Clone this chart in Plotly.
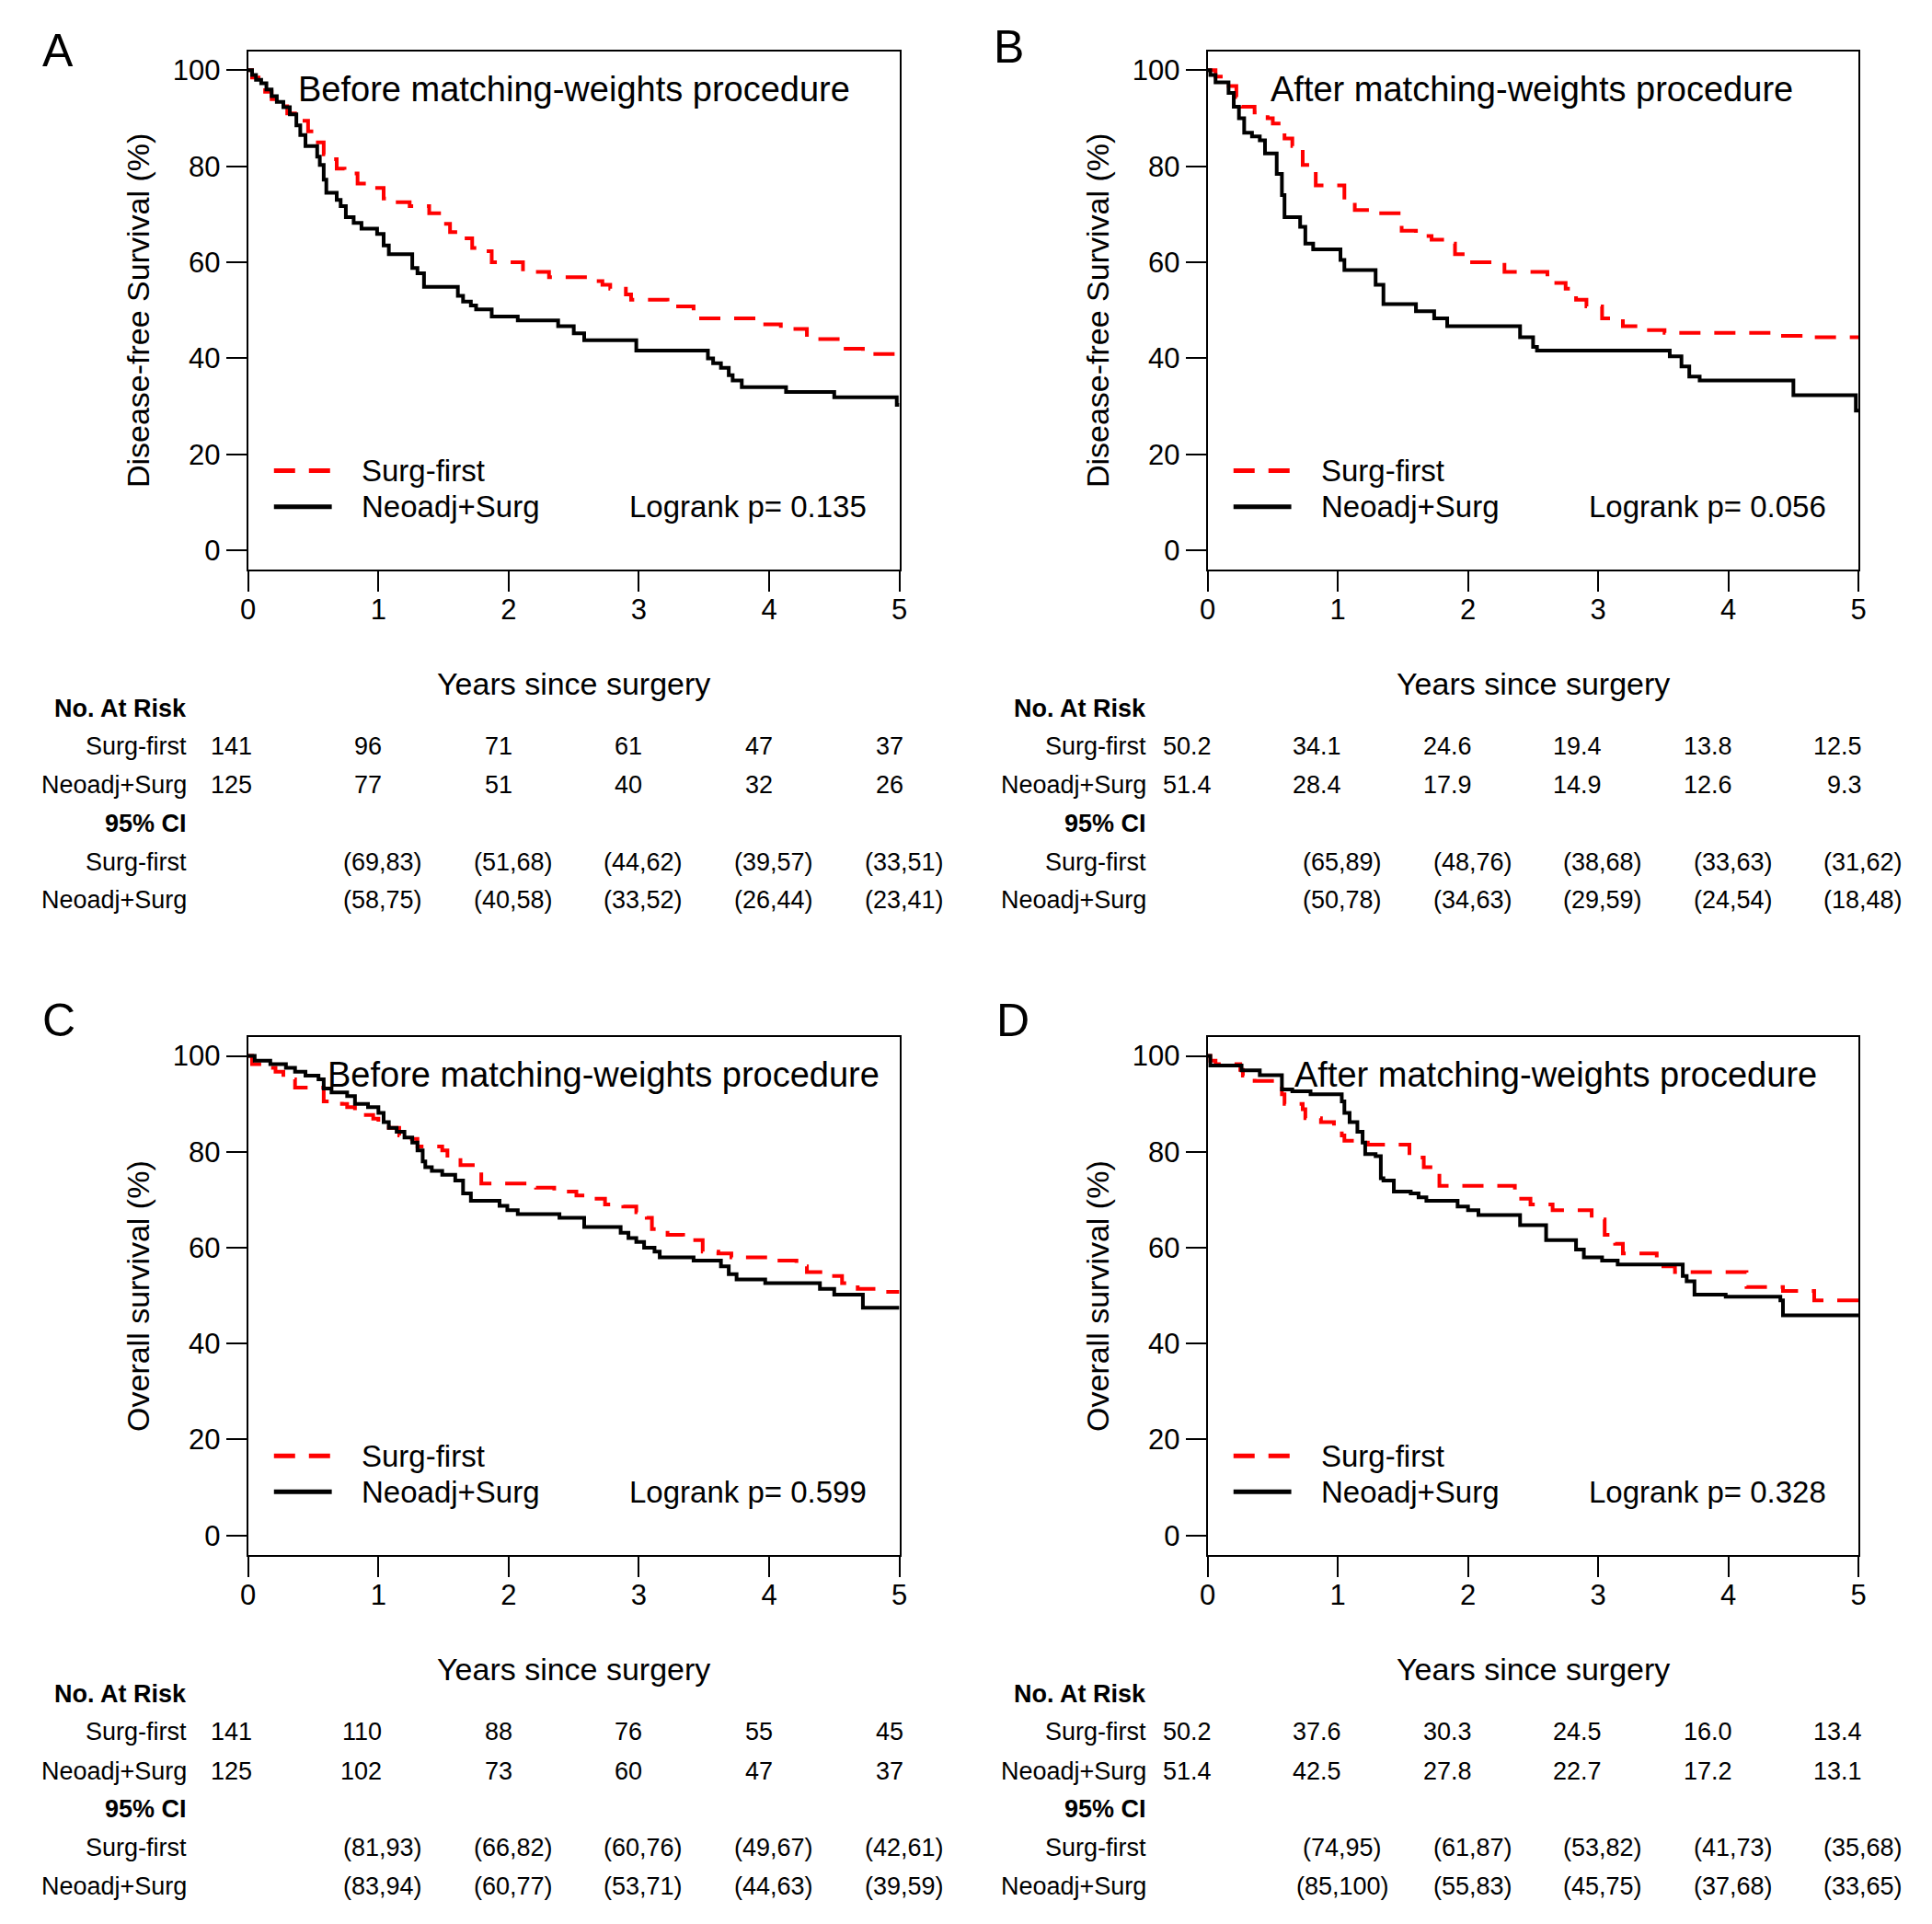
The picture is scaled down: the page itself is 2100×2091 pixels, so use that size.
import plotly.graph_objects as go

FONT = "Arial, 'Liberation Sans', Arimo, sans-serif"
W, H = 2100, 2091
# measured page mapping: the paper's horizontal extent lands in [8, 2092] of the photograph
OX, SX = 8.0, 2084.0

# ---------------- data ----------------
A_sf_t = [0, 0.03, 0.08, 0.13, 0.18, 0.24, 0.30, 0.36, 0.40, 0.46, 0.52, 0.58, 0.62, 0.68, 0.74, 0.84, 0.92, 1.04, 1.10, 1.24, 1.39, 1.50, 1.55, 1.62, 1.72, 1.76, 1.87, 2.11, 2.31, 2.62, 2.72, 2.78, 2.90, 2.94, 3.22, 3.42, 3.93, 4.09, 4.29, 4.56, 4.72, 5.0]
A_sf_s = [100, 98.5, 97, 95.5, 94, 92.5, 91, 90.2, 89.5, 87.3, 85, 82.5, 81.5, 79.5, 78.5, 76.4, 75.5, 73.3, 72.5, 71.7, 70.2, 68, 66.3, 65, 63, 62.3, 60, 58, 56.9, 56.1, 55.3, 54.5, 53.3, 52.2, 50.8, 48.3, 47.1, 46.1, 44, 42, 40.9, 40.9]
A_ns_t = [0, 0.03, 0.06, 0.10, 0.14, 0.18, 0.22, 0.27, 0.32, 0.37, 0.40, 0.44, 0.53, 0.55, 0.58, 0.60, 0.68, 0.71, 0.75, 0.81, 0.87, 0.99, 1.04, 1.08, 1.26, 1.30, 1.35, 1.61, 1.65, 1.71, 1.75, 1.87, 2.07, 2.38, 2.50, 2.58, 2.98, 3.53, 3.57, 3.63, 3.69, 3.72, 3.79, 4.13, 4.50, 4.98, 5.0]
A_ns_s = [100, 99, 98, 97.3, 96, 94.6, 93.4, 92.3, 90.8, 88.5, 86.5, 84.2, 82.0, 80.3, 77.2, 74.5, 73, 71.7, 69.4, 68.2, 67.0, 65.9, 63.5, 61.7, 58.8, 57.7, 54.9, 53.0, 51.8, 51.0, 50.2, 48.7, 47.9, 46.7, 45.2, 43.75, 41.6, 40.0, 39.0, 38.0, 36.5, 35.4, 34.0, 33.0, 31.9, 30.3, 30.3]

B_sf_t = [0, 0.06, 0.14, 0.22, 0.26, 0.36, 0.46, 0.50, 0.59, 0.65, 0.73, 0.83, 1.05, 1.13, 1.27, 1.49, 1.60, 1.72, 1.82, 1.90, 1.98, 2.28, 2.61, 2.75, 2.83, 2.91, 3.03, 3.19, 3.39, 3.51, 4.42, 4.66, 5.0]
B_sf_s = [100, 98.7, 96.7, 94.4, 92.4, 91.2, 90, 88.9, 85.8, 84.2, 80.3, 76, 72.5, 70.9, 70.2, 66.6, 65.5, 64.7, 63.9, 61.7, 60, 58, 55.7, 54.5, 52.2, 50.8, 48.3, 46.7, 45.9, 45.3, 44.7, 44.4, 44.4]
B_ns_t = [0, 0.02, 0.06, 0.16, 0.20, 0.24, 0.28, 0.34, 0.40, 0.44, 0.53, 0.57, 0.59, 0.71, 0.75, 0.81, 1.02, 1.05, 1.29, 1.35, 1.60, 1.74, 1.84, 2.40, 2.50, 2.53, 3.55, 3.64, 3.70, 3.78, 4.50, 4.98, 5.0]
B_ns_s = [100, 99, 97.5, 95.3, 92.4, 90, 87, 86.2, 85.4, 82.7, 78.4, 74, 69.4, 67.4, 63.9, 62.7, 60.5, 58.4, 55.3, 51.3, 49.8, 48.3, 46.7, 44.4, 42.4, 41.6, 40.4, 38.3, 36.2, 35.4, 32.3, 29.1, 29.1]

C_sf_t = [0, 0.03, 0.13, 0.21, 0.27, 0.36, 0.58, 0.72, 0.76, 0.82, 0.96, 1.00, 1.08, 1.16, 1.22, 1.30, 1.49, 1.53, 1.63, 1.75, 1.79, 2.21, 2.35, 2.52, 2.66, 2.74, 2.88, 2.98, 3.06, 3.10, 3.22, 3.34, 3.40, 3.49, 3.61, 3.71, 3.97, 4.21, 4.29, 4.41, 4.56, 4.68, 4.84, 5.0]
C_sf_s = [100, 98.3, 97.5, 96.7, 95.1, 93.4, 90.5, 90, 89.3, 87.7, 86.9, 85.8, 85, 83.4, 82.7, 81.1, 80.3, 78.8, 77.2, 76, 73.4, 72.5, 71.7, 70.9, 70.2, 69, 68.6, 67.4, 66.25, 63.9, 62.7, 62, 61.6, 59.2, 58.8, 58, 57.3, 56.1, 54.9, 54.1, 52.6, 51.4, 50.8, 50.8]
C_ns_t = [0, 0.05, 0.17, 0.29, 0.36, 0.44, 0.54, 0.58, 0.64, 0.76, 0.82, 0.92, 1.00, 1.04, 1.08, 1.14, 1.20, 1.26, 1.30, 1.34, 1.36, 1.41, 1.49, 1.59, 1.65, 1.71, 1.93, 1.99, 2.07, 2.39, 2.58, 2.86, 2.92, 2.98, 3.04, 3.12, 3.16, 3.42, 3.63, 3.69, 3.75, 3.97, 4.39, 4.50, 4.72, 5.0]
C_ns_s = [100, 99, 98.3, 97.5, 96.7, 95.9, 95.1, 93.2, 92.4, 91.6, 90, 89.3, 88.1, 86.2, 85, 84.2, 83, 81.9, 80.3, 78, 76.8, 76, 75.2, 74, 71.3, 69.8, 68.75, 67.8, 67, 66.25, 64.3, 63.1, 62, 61.2, 60, 59.2, 58, 57.3, 56.1, 54.5, 53.4, 52.6, 51.4, 50.2, 47.5, 47.5]

D_sf_t = [0, 0.02, 0.06, 0.25, 0.27, 0.36, 0.57, 0.59, 0.73, 0.75, 0.87, 0.97, 1.03, 1.05, 1.17, 1.23, 1.55, 1.66, 1.76, 1.78, 2.36, 2.48, 2.65, 2.95, 3.05, 3.13, 3.19, 3.45, 3.59, 4.14, 4.42, 4.66, 5.0]
D_sf_s = [100, 99, 98.3, 97.1, 95.9, 94.8, 92, 90, 88.9, 87, 86.2, 85.4, 83.4, 82.3, 81.9, 81.5, 78.8, 76.8, 76, 72.9, 70.2, 69, 67.8, 65.9, 62.7, 60.8, 58.8, 56.1, 54.9, 51.8, 51, 49, 49]
D_ns_t = [0, 0.02, 0.26, 0.40, 0.57, 0.65, 0.79, 1.03, 1.05, 1.09, 1.15, 1.19, 1.21, 1.29, 1.33, 1.35, 1.43, 1.56, 1.62, 1.68, 1.92, 2.00, 2.08, 2.40, 2.60, 2.83, 2.89, 3.03, 3.15, 3.65, 3.68, 3.74, 3.98, 4.40, 4.42, 5.0]
D_ns_s = [100, 98, 97, 96, 93, 92.6, 92, 90.5, 88.1, 86.2, 84.2, 81.9, 79.5, 79.1, 74.5, 74, 71.7, 71.3, 70.5, 69.8, 68.6, 67.8, 66.8, 64.7, 61.6, 59.6, 58, 57.3, 56.5, 54.1, 53, 50.2, 49.8, 49, 45.9, 45.9]

years = [0, 1, 2, 3, 4, 5]
A_risk_sf = ["141", "96", "71", "61", "47", "37"]
A_risk_ns = ["125", "77", "51", "40", "32", "26"]
A_ci_sf = ["(69,83)", "(51,68)", "(44,62)", "(39,57)", "(33,51)"]
A_ci_ns = ["(58,75)", "(40,58)", "(33,52)", "(26,44)", "(23,41)"]
B_risk_sf = ["50.2", "34.1", "24.6", "19.4", "13.8", "12.5"]
B_risk_ns = ["51.4", "28.4", "17.9", "14.9", "12.6", "9.3"]
B_ci_sf = ["(65,89)", "(48,76)", "(38,68)", "(33,63)", "(31,62)"]
B_ci_ns = ["(50,78)", "(34,63)", "(29,59)", "(24,54)", "(18,48)"]
C_risk_sf = ["141", "110", "88", "76", "55", "45"]
C_risk_ns = ["125", "102", "73", "60", "47", "37"]
C_ci_sf = ["(81,93)", "(66,82)", "(60,76)", "(49,67)", "(42,61)"]
C_ci_ns = ["(83,94)", "(60,77)", "(53,71)", "(44,63)", "(39,59)"]
D_risk_sf = ["50.2", "37.6", "30.3", "24.5", "16.0", "13.4"]
D_risk_ns = ["51.4", "42.5", "27.8", "22.7", "17.2", "13.1"]
D_ci_sf = ["(74,95)", "(61,87)", "(53,82)", "(41,73)", "(35,68)"]
D_ci_ns = ["(85,100)", "(55,83)", "(45,75)", "(37,68)", "(33,65)"]

group_names = ["Surg-first", "Neoadj+Surg"]
y_ticks = [0, 20, 40, 60, 80, 100]

panels = [
    dict(letter="A", letter_px=(62.5, 55), left=269, right=977.5, top=55.5, bottom=619,
         title="Before matching-weights procedure", title_x=0.367,
         ytitle="Disease-free Survival (%)", p="Logrank p= 0.135",
         sf=(A_sf_t, A_sf_s), ns=(A_ns_t, A_ns_s),
         risk=(A_risk_sf, A_risk_ns), ci=(A_ci_sf, A_ci_ns)),
    dict(letter="B", letter_px=(1097, 51), left=1313, right=2021, top=55.5, bottom=619,
         title="After matching-weights procedure", title_x=0.466,
         ytitle="Disease-free Survival (%)", p="Logrank p= 0.056",
         sf=(B_sf_t, B_sf_s), ns=(B_ns_t, B_ns_s),
         risk=(B_risk_sf, B_risk_ns), ci=(B_ci_sf, B_ci_ns)),
    dict(letter="C", letter_px=(63, 1108.5), left=269, right=977.5, top=1126.7, bottom=1689.5,
         title="Before matching-weights procedure", title_x=0.593,
         ytitle="Overall survival (%)", p="Logrank p= 0.599",
         sf=(C_sf_t, C_sf_s), ns=(C_ns_t, C_ns_s),
         risk=(C_risk_sf, C_risk_ns), ci=(C_ci_sf, C_ci_ns)),
    dict(letter="D", letter_px=(1101, 1109), left=1313, right=2021, top=1126.7, bottom=1689.5,
         title="After matching-weights procedure", title_x=0.654,
         ytitle="Overall survival (%)", p="Logrank p= 0.328",
         sf=(D_sf_t, D_sf_s), ns=(D_ns_t, D_ns_s),
         risk=(D_risk_sf, D_risk_ns), ci=(D_ci_sf, D_ci_ns)),
]

fig = go.Figure()
annotations = []
shapes = []
layout_axes = {}

RED = "#FF0000"
BLACK = "#000000"
DASH = "23px,15px"


def fx(p):
    return (p - OX) / SX


def fy(p):
    return 1 - p / H


for i, P in enumerate(panels):
    n = "" if i == 0 else str(i + 1)
    xa, ya = "x" + n, "y" + n
    fig.add_trace(go.Scatter(x=P["sf"][0], y=P["sf"][1], mode="lines", line_shape="hv",
                             line=dict(color=RED, width=4, dash=DASH),
                             name=group_names[0], showlegend=False, xaxis=xa, yaxis=ya))
    fig.add_trace(go.Scatter(x=P["ns"][0], y=P["ns"][1], mode="lines", line_shape="hv",
                             line=dict(color=BLACK, width=4),
                             name=group_names[1], showlegend=False, xaxis=xa, yaxis=ya))
    common = dict(showline=True, mirror=True, linecolor="black", linewidth=2,
                  ticks="outside", ticklen=22, tickwidth=2, tickcolor="black",
                  showgrid=False, zeroline=False,
                  tickfont=dict(family=FONT, size=31, color="black"))
    layout_axes["xaxis" + n] = dict(domain=[fx(P["left"]), fx(P["right"])], range=[0, 5],
                                    anchor=ya, tickvals=years, ticklabelstandoff=-7, **common)
    layout_axes["yaxis" + n] = dict(domain=[fy(P["bottom"]), fy(P["top"])], range=[-4, 104],
                                    anchor=xa, tickvals=y_ticks, **common)
    annotations.append(dict(text=P["letter"], xref="paper", yref="paper",
                            x=fx(P["letter_px"][0]), y=fy(P["letter_px"][1]),
                            xanchor="center", yanchor="middle", showarrow=False,
                            font=dict(family=FONT, size=50, color="black")))
    annotations.append(dict(text=P["title"], xref=xa, yref=ya, x=P["title_x"], y=96,
                            xanchor="left", yanchor="middle", showarrow=False,
                            font=dict(family=FONT, size=38, color="black")))
    annotations.append(dict(text=P["ytitle"], xref="paper", yref="paper",
                            x=fx(P["left"] - 120), y=fy((P["top"] + P["bottom"]) / 2),
                            textangle=-90, xanchor="center", yanchor="middle", showarrow=False,
                            font=dict(family=FONT, size=34, color="black")))
    annotations.append(dict(text="Years since surgery", xref="paper", yref="paper",
                            x=fx((P["left"] + P["right"]) / 2), y=fy(P["top"] + 687.2),
                            xanchor="center", yanchor="middle", showarrow=False,
                            font=dict(family=FONT, size=34, color="black")))
    shapes.append(dict(type="line", xref=xa, yref=ya, x0=0.198, x1=0.642, y0=16.6, y1=16.6,
                       line=dict(color=RED, width=5, dash=DASH)))
    shapes.append(dict(type="line", xref=xa, yref=ya, x0=0.198, x1=0.642, y0=9.1, y1=9.1,
                       line=dict(color=BLACK, width=5)))
    for txt, yy in zip(group_names, [16.6, 9.1]):
        annotations.append(dict(text=txt, xref=xa, yref=ya, x=0.854, y=yy,
                                xanchor="left", yanchor="middle", showarrow=False,
                                font=dict(family=FONT, size=33, color="black")))
    annotations.append(dict(text=P["p"], xref=xa, yref=ya, x=4.764, y=9.1,
                            xanchor="right", yanchor="middle", showarrow=False,
                            font=dict(family=FONT, size=33, color="black")))
    row_off = [714.5, 755.5, 797.8, 839.5, 881.2, 922.8]
    labels = ["<b>No. At Risk</b>", group_names[0], group_names[1], "<b>95% CI</b>",
              group_names[0], group_names[1]]
    tf = dict(family=FONT, size=27, color="black")
    for lab, off in zip(labels, row_off):
        annotations.append(dict(text=lab, xref="paper", yref="paper",
                                x=fx(P["left"] - 65), y=fy(P["top"] + off),
                                xanchor="right", yanchor="middle", showarrow=False, font=tf))
    for r, off in zip(P["risk"], [row_off[1], row_off[2]]):
        for yr, val in zip(years, r):
            annotations.append(dict(text=val, xref=xa, yref="paper", x=yr, xshift=6,
                                    y=fy(P["top"] + off), xanchor="right", yanchor="middle",
                                    showarrow=False, font=tf))
    for c, off in zip(P["ci"], [row_off[4], row_off[5]]):
        for yr, val in zip(years[1:], c):
            annotations.append(dict(text=val, xref=xa, yref="paper", x=yr, xshift=5,
                                    y=fy(P["top"] + off), xanchor="center", yanchor="middle",
                                    showarrow=False, font=tf))

fig.update_layout(width=W, height=H, autosize=False, margin=dict(l=0, r=0, t=0, b=0),
                  paper_bgcolor="white", plot_bgcolor="white",
                  font=dict(family=FONT, color="black"),
                  annotations=annotations, shapes=shapes, showlegend=False,
                  **layout_axes)

fig.write_html("out.html", config={"displayModeBar": False, "responsive": False},
               post_script="document.body.style.margin='0';document.body.style.overflow='hidden';")
